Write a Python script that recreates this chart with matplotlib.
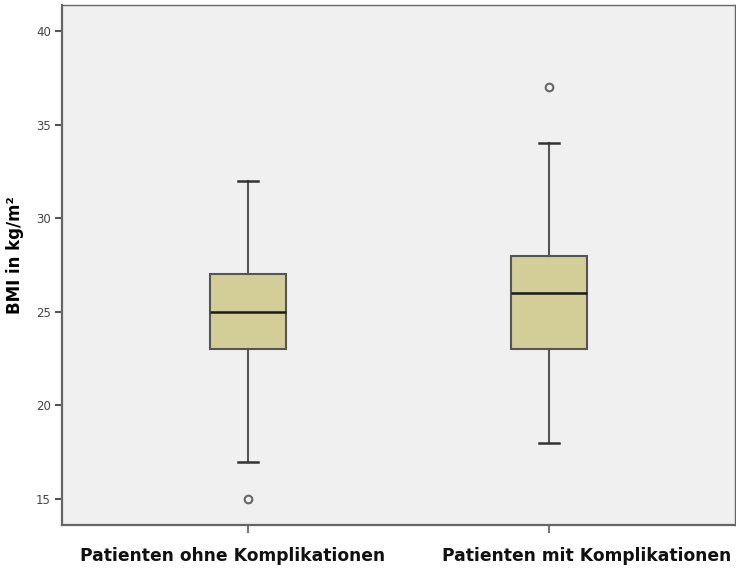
import matplotlib
matplotlib.use("Agg")
import matplotlib.pyplot as plt
from matplotlib.transforms import ScaledTranslation

# Data (BMI in kg/m²)
groups = ["Patienten ohne Komplikationen", "Patienten mit Komplikationen"]
whisker_low = [17, 18]
q1 = [23, 23]
medians = [25, 26]
q3 = [27, 28]
whisker_high = [32, 34]
outliers = [[15], [37]]

stats = []
for i in range(len(groups)):
    stats.append({
        "label": groups[i],
        "whislo": whisker_low[i],
        "q1": q1[i],
        "med": medians[i],
        "q3": q3[i],
        "whishi": whisker_high[i],
        "fliers": outliers[i],
    })

fig = plt.figure(figsize=(7.36, 5.68), dpi=100)
ax = fig.add_axes([0.0842, 0.0757, 0.9144, 0.9155])
ax.set_facecolor("#f0f0f0")

line_col = "#555555"
ax.bxp(stats, positions=[1, 2], widths=0.252, capwidths=0.066,
       patch_artist=True,
       boxprops=dict(facecolor="#d3ce97", edgecolor=line_col, linewidth=1.5),
       medianprops=dict(color="#1a1a1a", linewidth=1.8),
       whiskerprops=dict(color=line_col, linewidth=1.5),
       capprops=dict(color="#333333", linewidth=1.8),
       flierprops=dict(marker="o", markersize=5.5, markerfacecolor="none",
                       markeredgecolor="#666666", markeredgewidth=1.5))

ax.set_xlim(0.384, 2.616)
ax.set_ylim(13.61, 41.39)
ax.set_yticks([15, 20, 25, 30, 35, 40])

for side in ["left", "bottom", "top", "right"]:
    ax.spines[side].set_color("#666666")
ax.spines["left"].set_linewidth(1.6)
ax.spines["bottom"].set_linewidth(1.6)
ax.spines["top"].set_linewidth(1.0)
ax.spines["right"].set_linewidth(1.0)

ax.tick_params(axis="y", length=5, width=1.5, color="#555555",
               labelsize=8.5, labelcolor="#444444", pad=3)
ax.tick_params(axis="x", length=6, width=1.5, color="#777777", pad=10)
ax.set_xticks([1, 2])
ax.set_xticklabels(groups, fontsize=12.3, fontweight="bold", color="#111111")

# SPSS puts the category labels a bit off-centre from the ticks
shifts = [-15, 37]
for lab, dx in zip(ax.get_xticklabels(), shifts):
    lab.set_transform(lab.get_transform() + ScaledTranslation(dx / 100, 0, fig.dpi_scale_trans))

ax.set_ylabel("BMI in kg/m²", fontsize=12, fontweight="bold")
ax.yaxis.set_label_coords(-0.056, 0.519)

fig.savefig("out.png", dpi=100)
